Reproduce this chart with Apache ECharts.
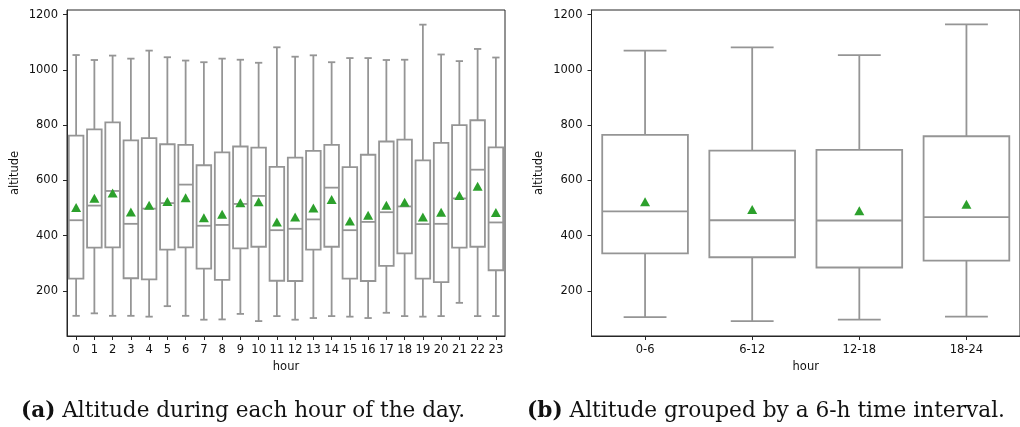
<!DOCTYPE html>
<html><head><meta charset="utf-8">
<script src="https://cdn.jsdelivr.net/npm/echarts@6/dist/echarts.min.js"></script>
<style>html,body{margin:0;padding:0;background:#fff}#c{width:1020px;height:427px}</style>
</head><body><div id="c"></div>
<script>
// ---- data ----
const hours = ['0','1','2','3','4','5','6','7','8','9','10','11','12','13','14','15','16','17','18','19','20','21','22','23'];
const hourMin    = [110,119,110,110,107,145,110, 96, 97,117, 91,109, 96,102,109,107,102,121,109,107,109,157,109,109];
const hourQ1     = [245,357,358,246,242,350,358,281,240,354,360,237,236,350,360,245,236,291,336,245,232,357,360,275];
const hourMedian = [456,509,562,443,498,518,585,436,439,515,544,420,425,459,574,420,450,485,506,442,443,535,639,448];
const hourQ3     = [762,785,810,745,753,731,729,655,702,723,719,649,683,707,729,648,693,741,748,673,736,800,818,720];
const hourMax    = [1054,1036,1052,1041,1070,1046,1034,1028,1041,1037,1026,1082,1048,1053,1028,1043,1043,1036,1037,1164,1056,1032,1076,1045];
const hourMean   = [502,536,555,486,510,524,537,465,478,519,523,450,468,500,531,453,474,510,521,468,485,546,579,484];

const groups      = ['0-6','6-12','12-18','18-24'];
const groupMin    = [105, 91, 96,107];
const groupQ1     = [336,322,285,310];
const groupMedian = [488,456,455,467];
const groupQ3     = [765,708,711,760];
const groupMax    = [1070,1082,1054,1165];
const groupMean   = [523,495,490,514];

const yTicks = [200,400,600,800,1000,1200];
const yMin = 37, yMax = 1217;

const captionA = ['(a)', ' Altitude during each hour of the day.'];
const captionB = ['(b)', ' Altitude grouped by a 6-h time interval.'];

// ---- build ----
function boxRows(mins, q1s, meds, q3s, maxs) {
  return mins.map((m, i) => [i, m, q1s[i], meds[i], q3s[i], maxs[i]]);
}
const BOX_COLOR = '#959595';
const LW = 1.8;
function renderBox(params, api) {
  const x = api.value(0);
  const lo = api.coord([x, api.value(1)]);
  const q1 = api.coord([x, api.value(2)]);
  const med = api.coord([x, api.value(3)]);
  const q3 = api.coord([x, api.value(4)]);
  const hi = api.coord([x, api.value(5)]);
  const band = api.size([1, 0])[0];
  const half = band * 0.4, cap = band * 0.2, cx = lo[0];
  const st = {stroke: BOX_COLOR, lineWidth: LW, fill: null};
  return {type: 'group', children: [
    {type: 'line', shape: {x1: cx, y1: q3[1], x2: cx, y2: hi[1]}, style: st},
    {type: 'line', shape: {x1: cx, y1: q1[1], x2: cx, y2: lo[1]}, style: st},
    {type: 'line', shape: {x1: cx - cap, y1: hi[1], x2: cx + cap, y2: hi[1]}, style: st},
    {type: 'line', shape: {x1: cx - cap, y1: lo[1], x2: cx + cap, y2: lo[1]}, style: st},
    {type: 'rect', shape: {x: cx - half, y: q3[1], width: 2 * half, height: q1[1] - q3[1]},
      style: {stroke: BOX_COLOR, lineWidth: LW, fill: '#ffffff'}},
    {type: 'line', shape: {x1: cx - half, y1: med[1], x2: cx + half, y2: med[1]}, style: st}
  ]};
}

const FONT = 'DejaVu Sans';
const AX = '#262626';
function xAxisFor(gridIndex, cats) {
  return {
    type: 'category', gridIndex, data: cats, boundaryGap: true,
    name: 'hour', nameLocation: 'middle', nameGap: 24,
    nameTextStyle: {fontFamily: FONT, fontSize: 11.5, color: '#111'},
    axisLine: {show: true, lineStyle: {color: AX, width: 1}},
    axisTick: {show: true, alignWithLabel: true, length: 4, lineStyle: {color: AX}},
    axisLabel: {fontFamily: FONT, fontSize: 11.5, color: '#111', margin: 8, interval: 0},
    splitLine: {show: false}
  };
}
function yAxisFor(gridIndex) {
  return {
    type: 'value', gridIndex, min: yMin, max: yMax,
    name: 'altitude', nameLocation: 'middle', nameGap: 46, nameRotate: 90,
    nameTextStyle: {fontFamily: FONT, fontSize: 11.5, color: '#111'},
    axisLine: {show: true, lineStyle: {color: AX, width: 1}},
    axisTick: {show: true, length: 4, lineStyle: {color: AX}, customValues: yTicks},
    axisLabel: {fontFamily: FONT, fontSize: 11.5, color: '#111', margin: 9, customValues: yTicks,
      formatter: v => String(v)},
    splitLine: {show: false}
  };
}

// caption layout: fit text to the reference width
const CAP_FONT = 'DejaVu Serif', CAP_SIZE = 23;
function measure(parts) {
  const ctx = document.createElement('canvas').getContext('2d');
  ctx.font = 'bold ' + CAP_SIZE + 'px "' + CAP_FONT + '"';
  let w = ctx.measureText(parts[0]).width;
  ctx.font = CAP_SIZE + 'px "' + CAP_FONT + '"';
  w += ctx.measureText(parts[1]).width;
  return w;
}
function caption(parts, x, y, targetW) {
  const s = targetW / measure(parts);
  return {
    type: 'text', x: x, y: y, scaleX: s, originX: 0, originY: 0,
    style: {
      text: '{b|' + parts[0] + '}' + parts[1],
      fontFamily: CAP_FONT, fontSize: CAP_SIZE, fill: '#111',
      verticalAlign: 'middle', align: 'left',
      rich: {b: {fontWeight: 'bold', fontFamily: CAP_FONT, fontSize: CAP_SIZE}}
    }
  };
}

const chart = echarts.init(document.getElementById('c'), null, {renderer: 'canvas'});
chart.setOption({
  backgroundColor: '#ffffff',
  animation: false,
  grid: [
    {left: 67, top: 10, width: 438, height: 326, show: true, borderColor: AX, borderWidth: 1, backgroundColor: 'transparent'},
    {left: 591.5, top: 10, width: 438.3, height: 326, show: true, borderColor: AX, borderWidth: 1, backgroundColor: 'transparent'}
  ],
  xAxis: [xAxisFor(0, hours), xAxisFor(1, groups)],
  yAxis: [yAxisFor(0), yAxisFor(1)],
  series: [
    {type: 'custom', xAxisIndex: 0, yAxisIndex: 0, renderItem: renderBox,
      encode: {x: 0, y: [1, 2, 3, 4, 5]},
      data: boxRows(hourMin, hourQ1, hourMedian, hourQ3, hourMax)},
    {type: 'scatter', xAxisIndex: 0, yAxisIndex: 0, symbol: 'triangle', symbolSize: [10, 9],
      itemStyle: {color: '#2ca02c', opacity: 1}, data: hourMean.map((v, i) => [i, v]), z: 5},
    {type: 'custom', xAxisIndex: 1, yAxisIndex: 1, renderItem: renderBox,
      encode: {x: 0, y: [1, 2, 3, 4, 5]},
      data: boxRows(groupMin, groupQ1, groupMedian, groupQ3, groupMax)},
    {type: 'scatter', xAxisIndex: 1, yAxisIndex: 1, symbol: 'triangle', symbolSize: [10, 9],
      itemStyle: {color: '#2ca02c', opacity: 1}, data: groupMean.map((v, i) => [i, v]), z: 5}
  ],
  graphic: [
    caption(captionA, 21, 411, 444),
    caption(captionB, 527, 411, 478)
  ]
});
</script></body></html>
